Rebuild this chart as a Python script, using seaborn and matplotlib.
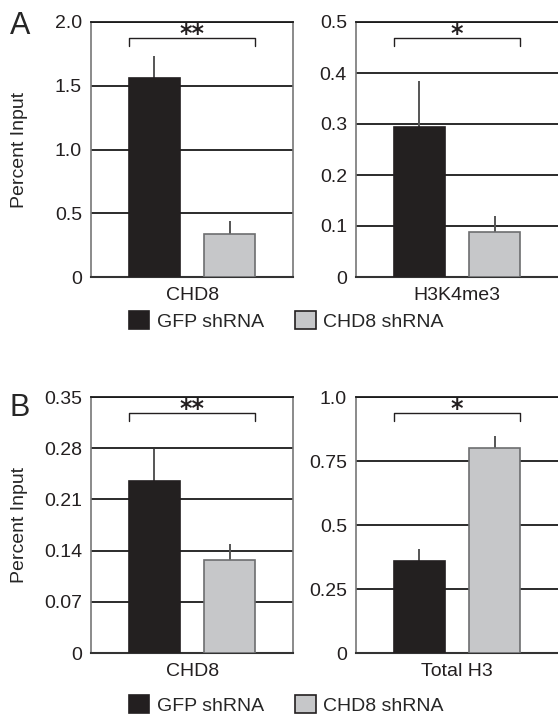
import pandas as pd
import seaborn as sns
import matplotlib.pyplot as plt
from matplotlib.patches import Patch
import matplotlib.transforms as mtransforms

# data
conditions = ["GFP shRNA", "CHD8 shRNA"]
targets = ["CHD8", "H3K4me3", "CHD8", "Total H3"]
means = [[1.56, 0.34], [0.294, 0.089], [0.2355, 0.1275], [0.359, 0.800]]
err_up = [[0.17, 0.10], [0.090, 0.030], [0.043, 0.0215], [0.049, 0.049]]
ymaxs = [2.0, 0.5, 0.35, 1.0]
yticks = [[0, 0.5, 1.0, 1.5, 2.0],
          [0, 0.1, 0.2, 0.3, 0.4, 0.5],
          [0, 0.07, 0.14, 0.21, 0.28, 0.35],
          [0, 0.25, 0.5, 0.75, 1.0]]
yticklabels = [["0", "0.5", "1.0", "1.5", "2.0"],
               ["0", "0.1", "0.2", "0.3", "0.4", "0.5"],
               ["0", "0.07", "0.14", "0.21", "0.28", "0.35"],
               ["0", "0.25", "0.5", "0.75", "1.0"]]
stars = ["**", "*", "**", "*"]

bar_colors = ["#231f20", "#c6c7c9"]
edge_colors = ["#231f20", "#6d6e70"]

sns.set_style("white")
plt.rcParams['font.family'] = ['Liberation Sans', 'DejaVu Sans']
fs = 14

fig = plt.figure(figsize=(5.58, 7.19), dpi=100)

W, H = 558, 719
boxes = [(91, 22, 202, 255), (356, 22, 202, 255),
         (91, 397, 202, 256), (356, 397, 202, 256)]

for i in range(4):
    x0, y0, w, h = boxes[i]
    ax = fig.add_axes([x0 / W, 1 - (y0 + h) / H, w / W, h / H])
    df = pd.DataFrame({"target": [targets[i]] * 2,
                       "condition": conditions,
                       "value": means[i]})
    sns.barplot(data=df, x="target", y="value", hue="condition",
                hue_order=conditions, palette=bar_colors, width=0.8,
                gap=0.325, errorbar=None, legend=False, ax=ax, zorder=3)
    bars = ax.patches[:2]
    for j, b in enumerate(bars):
        b.set_edgecolor(edge_colors[j])
        b.set_linewidth(1.2)
        cx = b.get_x() + b.get_width() / 2
        ax.vlines(cx, means[i][j], means[i][j] + err_up[i][j],
                  color="#555555", lw=1.4, zorder=2)

    ax.set_xlim(-0.536, 0.534)
    ax.set_ylim(0, ymaxs[i])
    ax.set_yticks(yticks[i])
    ax.set_yticklabels(yticklabels[i])
    ax.yaxis.grid(True, color="#1a1a1a", lw=1.3)
    ax.set_axisbelow(True)
    ax.tick_params(axis="both", length=0, labelsize=fs, colors="#231f20")
    ax.tick_params(axis="y", pad=6.5)
    ax.tick_params(axis="x", pad=7)
    ax.set_xlabel("")
    for s in ["left", "right"]:
        ax.spines[s].set_color("#777777")
        ax.spines[s].set_linewidth(1.2)
    ax.spines["top"].set_color("#1a1a1a")
    ax.spines["top"].set_linewidth(1.3)
    ax.spines["bottom"].set_color("#333333")
    ax.spines["bottom"].set_linewidth(1.5)
    if i % 2 == 1:
        ax.spines["right"].set_visible(False)

    if i % 2 == 0:
        ax.set_ylabel("Percent Input", fontsize=fs)
        ax.yaxis.set_label_coords(-0.31, 0.5)
    else:
        ax.set_ylabel("")

    # significance bracket
    tr = mtransforms.blended_transform_factory(ax.transData, ax.transAxes)
    xl = bars[0].get_x()
    xr = bars[1].get_x() + bars[1].get_width()
    ax.plot([xl, xl, xr, xr], [0.905, 0.936, 0.936, 0.905], color="#231f20",
            lw=1.0, transform=tr, clip_on=False)
    ax.text((xl + xr) / 2, 0.927, stars[i], transform=tr, ha="center",
            va="baseline", fontsize=17, fontweight="bold",
            family="DejaVu Sans", color="#231f20")

handles = [Patch(facecolor=bar_colors[k], edgecolor="#231f20", lw=1.2)
           for k in range(2)]
for ly in [321, 705]:
    fig.legend(handles, conditions, loc="center", ncol=2, frameon=False,
               bbox_to_anchor=(0.513, 1 - ly / H), fontsize=fs,
               handlelength=1.05, handleheight=1.05, handletextpad=0.4,
               columnspacing=1.6)

fig.text(20 / W, 1 - 26 / H, "A", fontsize=22, ha="center", va="center")
fig.text(20 / W, 1 - 408 / H, "B", fontsize=22, ha="center", va="center")

fig.savefig("out.png", dpi=100)
